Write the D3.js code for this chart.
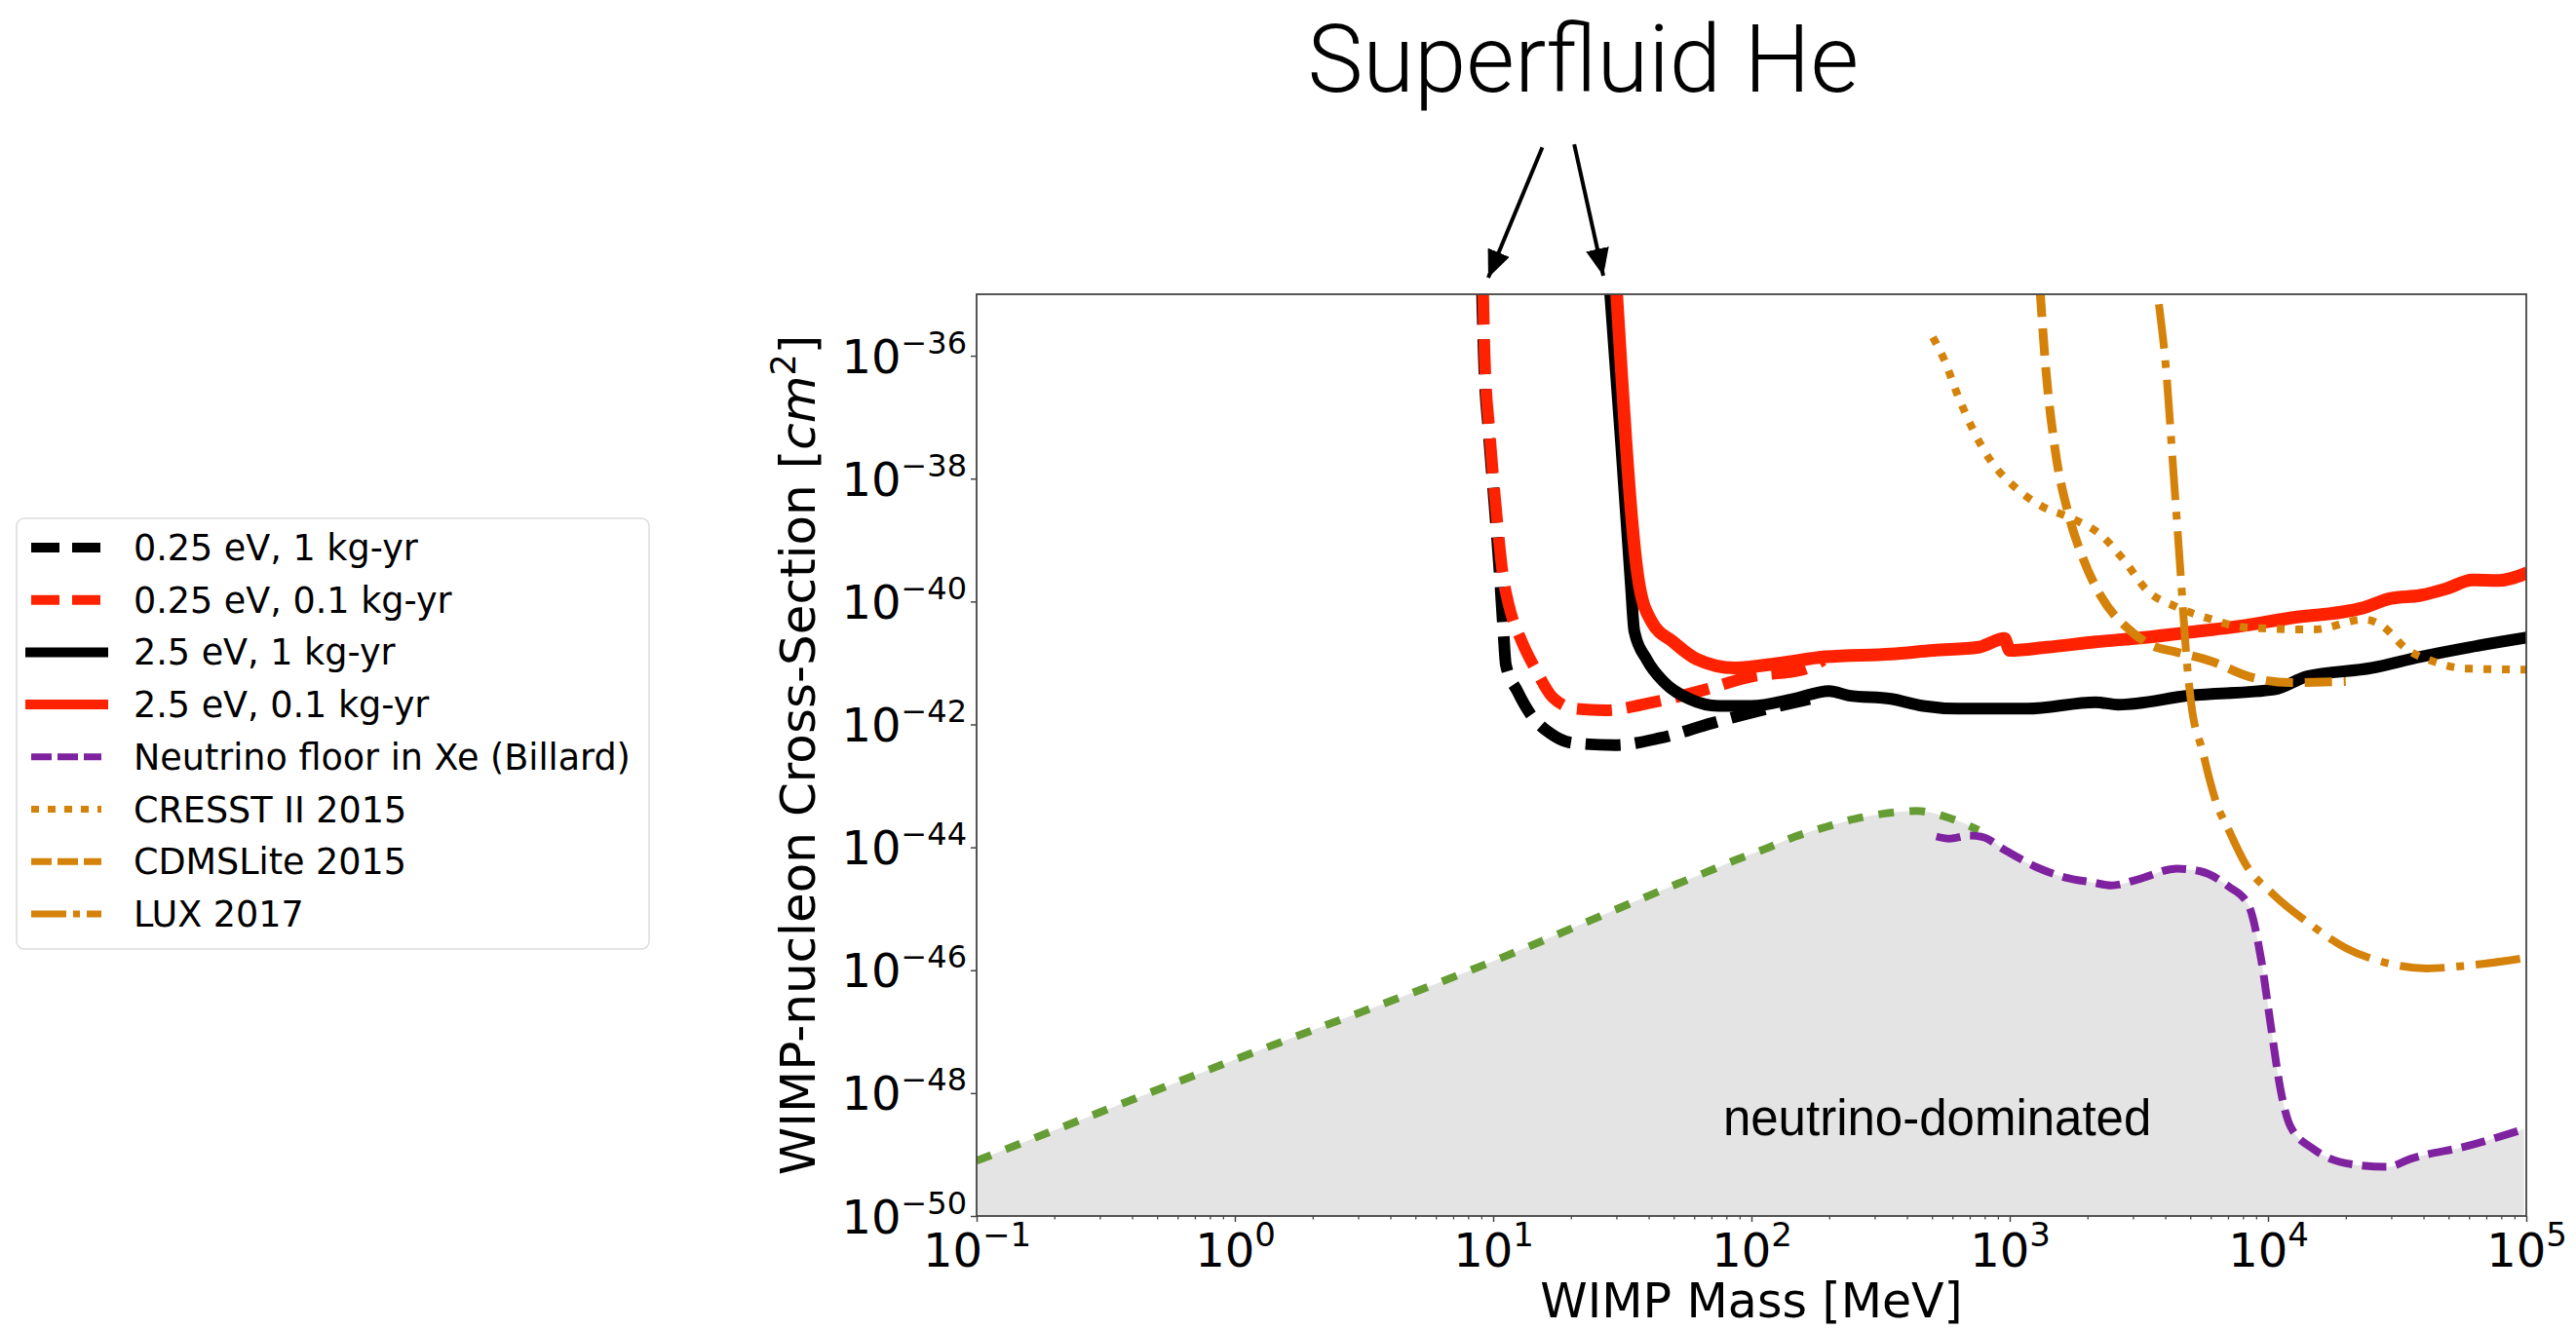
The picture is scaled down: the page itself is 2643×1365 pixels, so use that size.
<!DOCTYPE html>
<html>
<head>
<meta charset="utf-8">
<script src="https://cdn.jsdelivr.net/npm/d3@7"></script>
<style>
  body { margin: 0; background: #fff; }
  svg { display: block; }
  text { font-family: "DejaVu Sans", sans-serif; fill: #000; }
</style>
</head>
<body>
<svg id="chart"></svg>
<script>
// [WIMP mass in MeV, cross-section in cm^2]
const heDash1kg = [
  [9.05, 1.2e-35], [9.2, 9.8e-37], [9.6, 5.9e-38], [10.15, 3.2e-39], [10.6, 2.8e-40],
  [10.96, 3.2e-41], [11.2, 9.3e-42], [12.4, 3.5e-42], [13.9, 1.5e-42], [16.6, 7.2e-43],
  [20.3, 5.0e-43], [29.6, 4.6e-43], [44.3, 6.0e-43], [70.5, 1.05e-42], [109, 1.7e-42],
  [168, 2.6e-42]
];
const heDash01kg = [
  [9.14, 1.2e-35], [9.27, 9.8e-37], [9.68, 5.9e-38], [10.26, 3.2e-39], [10.89, 2.8e-40],
  [11.53, 8.3e-41], [12.76, 2.5e-41], [14.76, 7.2e-42], [17.0, 2.75e-42], [20.9, 1.8e-42],
  [27.1, 1.7e-42], [41.8, 2.3e-42], [66.5, 3.7e-42], [99.8, 6.0e-42], [158, 7.8e-42],
  [190, 1.12e-41]
];
const heSolid1kg = [
  [28.3, 1.2e-35], [31.3, 3.6e-38], [34.1, 1.95e-40], [35.2, 3.3e-41], [39.4, 1.12e-41],
  [45.6, 5.0e-42], [57.5, 2.6e-42], [74.6, 2.0e-42], [99.8, 2.0e-42], [145, 2.6e-42],
  [200, 3.5e-42], [238, 2.95e-42], [347, 2.6e-42], [462, 2.0e-42], [637, 1.8e-42],
  [780, 1.8e-42], [1170, 1.8e-42], [2150, 2.3e-42], [2630, 2.1e-42], [4980, 2.95e-42],
  [10570, 3.7e-42], [14100, 6.0e-42], [25200, 8.3e-42], [38900, 1.26e-41],
  [60100, 1.8e-41], [101000, 2.6e-41]
];
const heSolid01kg = [
  [30.0, 1.2e-35], [36.7, 1.95e-40], [41.2, 4.6e-41], [49.8, 2.2e-41], [61, 1.17e-41],
  [86.3, 8.3e-42], [126, 9.8e-42], [194, 1.26e-41], [347, 1.4e-41], [505, 1.6e-41],
  [757, 1.8e-41], [955, 2.5e-41], [1000, 1.6e-41], [1390, 1.8e-41], [2150, 2.2e-41],
  [3320, 2.6e-41], [5120, 3.2e-41], [7910, 4.0e-41], [12200, 5.4e-41], [23100, 7.8e-41],
  [29900, 1.12e-40], [38900, 1.26e-40], [49100, 1.62e-40], [61800, 2.24e-40],
  [78000, 2.2e-40], [101000, 2.95e-40]
];
const floorLight = [
  [0.1, 7.9e-50], [1, 3.5e-48], [10, 1.4e-46], [51.2, 2.5e-45], [66.5, 3.9e-45],
  [87.5, 6.3e-45], [113.5, 9.5e-45], [147, 1.48e-44], [194, 2.14e-44], [252, 2.9e-44],
  [337, 3.6e-44], [437, 3.9e-44], [583, 3.0e-44], [757, 1.9e-44]
];
const floorXe = [
  [520, 1.5e-44], [583, 1.38e-44], [695, 1.55e-44], [780, 1.48e-44], [955, 9.1e-45],
  [1276, 4.7e-45], [1656, 3.2e-45], [2080, 2.7e-45], [2480, 2.4e-45], [3130, 3.0e-45],
  [4440, 4.5e-45], [5430, 4.1e-45], [7050, 2.3e-45], [8400, 1.15e-45], [9420, 1.45e-46],
  [10250, 1.26e-47], [11200, 1.1e-48], [12200, 2.9e-49], [15000, 1.23e-49],
  [21800, 6.8e-50], [29100, 6.3e-50], [35600, 8.5e-50], [60100, 1.4e-49], [98000, 2.6e-49]
];
const cresst = [
  [504, 2.0e-36], [557, 8.7e-37], [631, 2.2e-37], [714, 6.8e-38], [841, 2.0e-38],
  [1035, 7.6e-39], [1324, 3.6e-39], [1766, 2.2e-39], [2260, 1.2e-39], [2780, 4.6e-40],
  [3410, 1.5e-40], [4380, 8.3e-41], [6080, 5.1e-41], [8110, 3.8e-41], [15000, 3.5e-41],
  [23700, 5.1e-41], [27500, 4.1e-41], [34300, 1.7e-41], [43900, 1.05e-41],
  [58500, 8.1e-42], [100000, 7.8e-42]
];
const cdmsLite = [
  [1310, 1.2e-35], [1380, 6.0e-37], [1500, 2.9e-38], [1694, 2.5e-39], [1919, 5.1e-40],
  [2260, 1.2e-40], [2900, 3.5e-41], [3520, 1.95e-41], [4440, 1.5e-41], [6080, 1.05e-41],
  [8450, 6.0e-42], [12200, 4.8e-42], [20000, 5.0e-42]
];
const lux = [
  [3780, 6.9e-36], [4030, 6.0e-37], [4290, 1.55e-38], [4560, 4.1e-40], [4850, 1.05e-41],
  [5050, 2.1e-42], [5600, 3.5e-43], [5930, 1.3e-43], [6280, 5.6e-44], [7050, 1.9e-44],
  [8150, 5.5e-45], [10570, 1.66e-45], [14100, 6.2e-46], [20000, 2.3e-46],
  [29100, 1.3e-46], [41200, 1.07e-46], [60100, 1.2e-46], [101000, 1.6e-46]
];

const massTicks = [1e-1, 1e0, 1e1, 1e2, 1e3, 1e4, 1e5];
const sigmaTicks = [1e-50, 1e-48, 1e-46, 1e-44, 1e-42, 1e-40, 1e-38, 1e-36];
const legendLabels = [
  "0.25 eV, 1 kg-yr", "0.25 eV, 0.1 kg-yr", "2.5 eV, 1 kg-yr", "2.5 eV, 0.1 kg-yr",
  "Neutrino floor in Xe (Billard)", "CRESST II 2015", "CDMSLite 2015", "LUX 2017"
];
// arrows from the "Superfluid He" note down to the two curve families
const arrowTails = [[15.5, 2.45e-33], [20.6, 2.75e-33]];
const arrowTips = [[9.57, 1.86e-35], [26.7, 2.0e-35]];
const noteAt = [22.3, 2.0e-32];
const regionLabelAt = [524, 2.1e-49];

const width = 2643, height = 1365;
const svg = d3.select('#chart').attr('width', width).attr('height', height);

const x = d3.scaleLog().domain([0.1, 1e5]).range([1002, 2592]);
const y = d3.scaleLog().domain([1e-50, 1e-35]).range([1248, 302]);
const [x0, x1] = x.range();
const [y0, y1] = y.range();

svg.append('defs').append('clipPath').attr('id', 'plot-clip')
  .append('rect')
    .attr('x', x0).attr('y', y1)
    .attr('width', x1 - x0).attr('height', y0 - y1);

const series = [
  { data: heDash1kg, label: legendLabels[0], color: '#000', w: 12, dash: '36,15', lw: 10, ldash: '29,13' },
  { data: heDash01kg, label: legendLabels[1], color: '#ff2200', w: 12, dash: '36,15', lw: 10, ldash: '29,13' },
  { data: heSolid1kg, label: legendLabels[2], color: '#000', w: 12, dash: null, lw: 10, ldash: null },
  { data: heSolid01kg, label: legendLabels[3], color: '#ff2200', w: 13, dash: null, lw: 10, ldash: null },
  { data: floorLight, label: null, color: '#669c34', w: 8, dash: '16,16' },
  { data: floorXe, label: legendLabels[4], color: '#7f22a0', w: 8, dash: '25,10', lw: 7, ldash: '21,6' },
  { data: cresst, label: legendLabels[5], color: '#d4820a', w: 8, dash: '8,11', lw: 7, ldash: '8,9' },
  { data: cdmsLite, label: legendLabels[6], color: '#d4820a', w: 9, dash: '28,12', lw: 7, ldash: '21,6' },
  { data: lux, label: legendLabels[7], color: '#d4820a', w: 8, dash: '46,12,8,12', lw: 7, ldash: '36,7,7,7' }
];

const plot = svg.append('g').attr('clip-path', 'url(#plot-clip)');

// shaded neutrino-dominated region: upper envelope of the two floor curves
const crossover = 800;
const floorEnvelope = floorLight.filter(d => d[0] < crossover)
  .concat(floorXe.filter(d => d[0] >= crossover));
plot.append('path')
  .datum(floorEnvelope)
  .attr('fill', '#e4e4e4')
  .attr('d', d3.area()
    .x(d => x(d[0]))
    .y0(y0)
    .y1(d => y(d[1]))
    .curve(d3.curveMonotoneX));

plot.append('text')
  .attr('x', x(regionLabelAt[0]))
  .attr('y', y(regionLabelAt[1]))
  .attr('text-anchor', 'middle')
  .style('font-family', '"Liberation Sans", Arial, sans-serif')
  .attr('font-size', 51)
  .text('neutrino-dominated');

const line = d3.line()
  .x(d => x(d[0]))
  .y(d => y(d[1]))
  .curve(d3.curveMonotoneX);

plot.selectAll('path.curve')
  .data(series)
  .join('path')
    .attr('class', 'curve')
    .attr('d', d => line(d.data))
    .attr('fill', 'none')
    .attr('stroke', d => d.color)
    .attr('stroke-width', d => d.w)
    .attr('stroke-dasharray', d => d.dash)
    .attr('stroke-linejoin', 'round');

// frame
svg.append('rect')
  .attr('x', x0).attr('y', y1)
  .attr('width', x1 - x0).attr('height', y0 - y1)
  .attr('fill', 'none')
  .attr('stroke', '#444')
  .attr('stroke-width', 1.8);

const exponent = d => String(Math.round(Math.log10(d))).replace('-', '\u2212');

// x axis
const minorMass = [];
massTicks.slice(0, -1).forEach(t => { for (let k = 2; k < 10; k++) minorMass.push(t * k); });

svg.append('g')
  .attr('transform', `translate(0,${y0})`)
  .call(d3.axisBottom(x).tickValues(minorMass).tickSize(3.5).tickFormat(''))
  .call(g => g.select('.domain').remove())
  .call(g => g.selectAll('line').attr('stroke', '#444').attr('stroke-width', 1.3));

const xAxis = svg.append('g')
  .attr('transform', `translate(0,${y0})`)
  .call(d3.axisBottom(x).tickValues(massTicks).tickSize(6).tickFormat(''))
  .call(g => g.select('.domain').remove())
  .call(g => g.selectAll('line').attr('stroke', '#444').attr('stroke-width', 1.5));

xAxis.selectAll('.tick text')
  .attr('y', 52).attr('dy', null)
  .attr('font-size', 48)
  .style('font-family', '"DejaVu Sans", sans-serif')
  .each(function (d) {
    const t = d3.select(this);
    t.append('tspan').text('10');
    t.append('tspan').attr('dy', -21).attr('font-size', 34).text(exponent(d));
  });

// y axis
const yAxis = svg.append('g')
  .attr('transform', `translate(${x0},0)`)
  .call(d3.axisLeft(y).tickValues(sigmaTicks).tickSize(6).tickPadding(4).tickFormat(''))
  .call(g => g.select('.domain').remove())
  .call(g => g.selectAll('line').attr('stroke', '#444').attr('stroke-width', 1.5));

yAxis.selectAll('.tick text')
  .attr('x', -10).attr('dy', null).attr('y', 17)
  .attr('font-size', 48)
  .style('font-family', '"DejaVu Sans", sans-serif')
  .each(function (d) {
    const t = d3.select(this);
    t.append('tspan').text('10');
    t.append('tspan').attr('dy', -20).attr('font-size', 32).text(exponent(d));
  });

// axis titles
svg.append('text')
  .attr('x', (x0 + x1) / 2)
  .attr('y', 1352)
  .attr('text-anchor', 'middle')
  .attr('font-size', 49)
  .text('WIMP Mass [MeV]');

const yTitle = svg.append('text')
  .attr('transform', `translate(836,${(y0 + y1) / 2}) rotate(-90)`)
  .attr('text-anchor', 'middle')
  .attr('font-size', 50);
yTitle.append('tspan').text('WIMP-nucleon Cross-Section [');
yTitle.append('tspan').style('font-style', 'italic').text('cm');
yTitle.append('tspan').attr('dy', -20).attr('font-size', 35).text('2');
yTitle.append('tspan').attr('dy', 20).text(']');

// annotation
svg.append('defs').append('marker')
  .attr('id', 'arrowhead')
  .attr('markerUnits', 'userSpaceOnUse')
  .attr('markerWidth', 30).attr('markerHeight', 26)
  .attr('refX', 28).attr('refY', 12)
  .attr('orient', 'auto')
  .append('path')
    .attr('d', 'M0,0 L28,12 L0,24 Z')
    .attr('fill', '#000');

svg.selectAll('line.arrow')
  .data(arrowTips)
  .join('line')
    .attr('class', 'arrow')
    .attr('x1', (d, i) => x(arrowTails[i][0]))
    .attr('y1', (d, i) => y(arrowTails[i][1]))
    .attr('x2', d => x(d[0]))
    .attr('y2', d => y(d[1]))
    .attr('stroke', '#000')
    .attr('stroke-width', 4)
    .attr('marker-end', 'url(#arrowhead)');

svg.append('text')
  .attr('x', x(noteAt[0]))
  .attr('y', y(noteAt[1]))
  .attr('text-anchor', 'middle')
  .style('font-family', 'Roboto, "Liberation Sans", sans-serif')
  .style('font-weight', 300)
  .attr('font-size', 96)
  .text('Superfluid He');

// legend
const legendRows = series.filter(d => d.label);
const legend = svg.append('g').attr('transform', 'translate(17,532)');
legend.append('rect')
  .attr('width', 649).attr('height', 442)
  .attr('rx', 8)
  .attr('fill', '#fff')
  .attr('stroke', '#dcdcdc')
  .attr('stroke-width', 1.5);

const rows = legend.selectAll('g.row')
  .data(legendRows)
  .join('g')
    .attr('class', 'row')
    .attr('transform', (d, i) => `translate(0,${30 + i * 53.7})`);

rows.append('line')
  .attr('x1', d => d.ldash ? 15 : 9)
  .attr('x2', d => d.ldash ? 87 : 94)
  .attr('stroke', d => d.color)
  .attr('stroke-width', d => d.lw)
  .attr('stroke-dasharray', d => d.ldash);

rows.append('text')
  .attr('x', 120)
  .attr('y', 13)
  .attr('font-size', 36.5)
  .text(d => d.label);
</script>
</body>
</html>
